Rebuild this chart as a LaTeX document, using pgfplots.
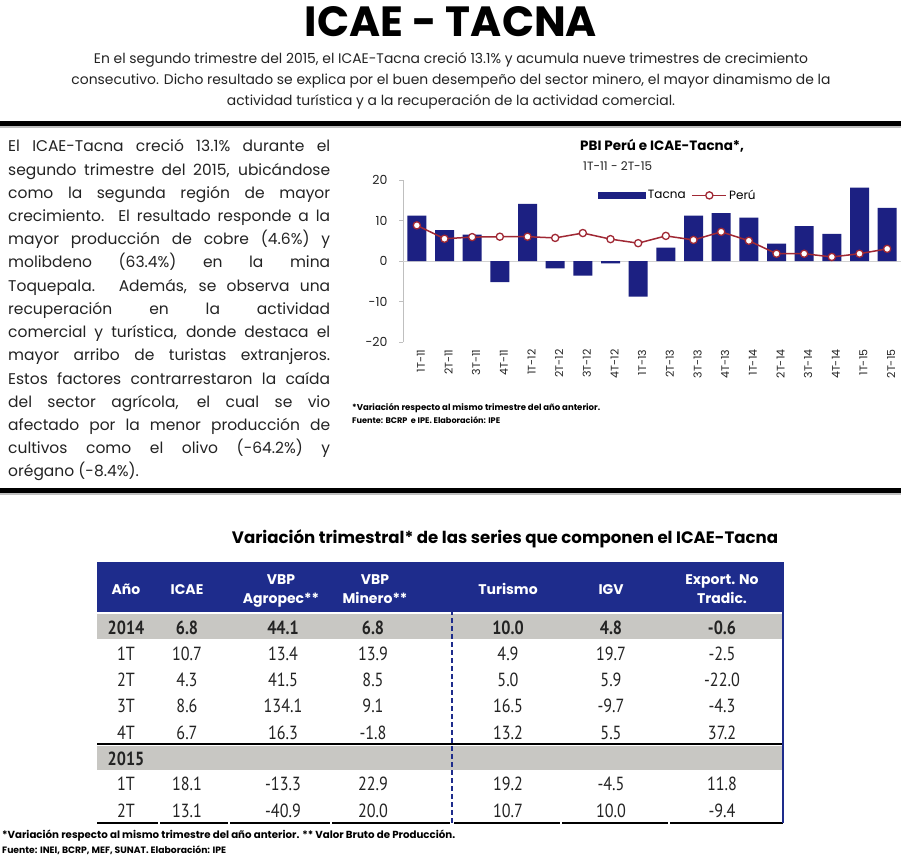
\documentclass[border=0pt]{standalone}
\usepackage{fontspec}
\setmainfont{Poppins}
\newfontfamily\numfont[FakeStretch=0.85]{PT Sans}
\usepackage{graphicx}
\usepackage{pgfplots}
\pgfplotsset{compat=1.18}

\definecolor{navy}{RGB}{28,32,130}
\definecolor{hdrblue}{RGB}{30,44,140}
\definecolor{peru}{RGB}{160,40,52}
\definecolor{rowgray}{RGB}{200,199,195}
\definecolor{txt}{RGB}{35,35,35}

\pgfplotsset{
  barleg/.style={legend image code/.code={\fill[navy] (0pt,-3.5pt) rectangle (48pt,3.5pt);}},
  lineleg/.style={legend image code/.code={\draw[mark repeat=2,mark phase=2,##1] plot coordinates {(0pt,0pt) (17pt,0pt) (34pt,0pt)};}}
}

\newcommand{\jl}[1]{\makebox[322pt][s]{#1}}

\begin{document}
\begin{tikzpicture}[x=1pt,y=1pt]
\useasboundingbox (0,0) rectangle (901,-858);
\fill[white] (0,0) rectangle (901,-858);

% heading
\node[inner sep=0] at (451,-22) {\resizebox{292pt}{30pt}{\bfseries ICAE - TACNA}};
\begin{scope}[every node/.style={inner sep=0,anchor=base,text=txt,font=\fontsize{13.9}{15}\selectfont}]
\node at (451,-64) {En el segundo trimestre del 2015, el ICAE-Tacna creció 13.1\% y acumula nueve trimestres de crecimiento};
\node at (451,-85) {consecutivo. Dicho resultado se explica por el buen desempeño del sector minero, el mayor dinamismo de la};
\node at (451,-106) {actividad turística y a la recuperación de la actividad comercial.};
\end{scope}
\fill[black] (0,-121) rectangle (901,-126);
\fill[black!25] (0,-126) rectangle (901,-128);

% left paragraph
\foreach \t [count=\i from 0] in {
 {\jl{El ICAE-Tacna creció 13.1\% durante el}},
 {\jl{segundo trimestre del 2015, ubicándose}},
 {\jl{como la segunda región de mayor}},
 {\jl{crecimiento. El resultado responde a la}},
 {\jl{mayor producción de cobre (4.6\%) y}},
 {\jl{molibdeno (63.4\%) en la mina}},
 {\jl{Toquepala. Además, se observa una}},
 {\jl{recuperación en la actividad}},
 {\jl{comercial y turística, donde destaca el}},
 {\jl{mayor arribo de turistas extranjeros.}},
 {\jl{Estos factores contrarrestaron la caída}},
 {\jl{del sector agrícola, el cual se vio}},
 {\jl{afectado por la menor producción de}},
 {\jl{cultivos como el olivo (-64.2\%) y}},
 {orégano (-8.4\%).}}
 \node[anchor=base west,inner sep=0,text=txt,font=\fontsize{15.5}{17}\selectfont] at (8,{-152-23.2*\i}) {\t};

% chart titles
\node[inner sep=0,anchor=base west,font=\fontsize{13.5}{14}\selectfont\bfseries] at (580,-151) {PBI Perú e ICAE-Tacna*,};
\node[inner sep=0,anchor=base west,text=txt,font=\fontsize{12}{14}\selectfont] at (583,-171) {1T-11 - 2T-15};

\begin{axis}[at={(403pt,-342pt)},anchor=south west,scale only axis,
  width=498pt,height=162pt,
  xmin=-0.5,xmax=17.5,ymin=-20,ymax=20,
  axis x line=bottom,axis y line=left,
  axis line style={-},
  x axis line style={draw=none},
  y axis line style={draw=black!25,line width=0.8pt},
  xtick={0,...,17},
  xticklabels={1T-11,2T-11,3T-11,4T-11,1T-12,2T-12,3T-12,4T-12,1T-13,2T-13,3T-13,4T-13,1T-14,2T-14,3T-14,4T-14,1T-15,2T-15},
  x tick style={draw=none},
  xticklabel style={rotate=90,anchor=east,font=\fontsize{11}{11}\selectfont,text=txt,yshift=-4pt},
  ytick={-20,-10,0,10,20},
  y tick style={draw=black!25,line width=0.8pt},
  tick align=outside,major tick length=4pt,
  yticklabel style={font=\fontsize{12.5}{12}\selectfont,text=txt,xshift=-8pt},
  /pgf/number format/assume math mode=true,
  extra y ticks={0},extra y tick labels={},
  extra y tick style={grid=major,major grid style={draw=black!18,line width=0.8pt},tick style={draw=none}},
  legend style={draw=none,fill=none,at={(0.385,0.905)},anchor=west,legend columns=2,
    font=\fontsize{12}{12}\selectfont,
    /tikz/every even column/.append style={column sep=4pt}},
  legend cell align=left,
  clip=true]
\addplot[ybar,bar width=19pt,fill=navy,draw=none,barleg]
  coordinates {(0,11.2) (1,7.6) (2,6.5) (3,-5.2) (4,14.1) (5,-1.8) (6,-3.6) (7,-0.6) (8,-8.8)
   (9,3.3) (10,11.2) (11,11.8) (12,10.7) (13,4.3) (14,8.6) (15,6.7) (16,18.1) (17,13.1)};
\addplot[peru,line width=1.5pt,mark=*,mark size=3.6pt,mark options={fill=white,draw=peru,line width=1.3pt},lineleg]
  coordinates {(0,8.8) (1,5.5) (2,5.9) (3,6.0) (4,6.0) (5,5.7) (6,6.9) (7,5.4) (8,4.4)
   (9,6.2) (10,5.2) (11,7.2) (12,5.0) (13,1.8) (14,1.8) (15,1.0) (16,1.8) (17,3.0)};
\legend{Tacna,Perú}
\end{axis}

\node[inner sep=0,anchor=base west] at (352,-410) {\resizebox{248pt}{!}{\bfseries *Variación respecto al mismo trimestre del año anterior.}};
\node[inner sep=0,anchor=base west] at (352,-423) {\resizebox{148pt}{!}{\bfseries Fuente: BCRP\ \ e IPE. Elaboración: IPE}};

% second rule
\fill[black] (0,-488) rectangle (901,-493);
\fill[black!25] (0,-493) rectangle (901,-495);

% table
\node[inner sep=0,anchor=base] at (505,-543) {\resizebox{546pt}{!}{\bfseries Variación trimestral* de las series que componen el ICAE-Tacna}};
\fill[hdrblue] (97,-562) rectangle (783,-612);
\fill[rowgray] (97,-614) rectangle (783,-639);
\fill[rowgray] (97,-746) rectangle (783,-770);
\draw[black,line width=2pt] (97,-744) -- (783,-744);
\foreach \a/\b in {97/158,160/228,230/330,332/450,454/560,562/668,670/783}
  \draw[black,line width=2pt] (\a,-823) -- (\b,-823);
\draw[hdrblue,line width=1.3pt,dash pattern=on 5pt off 3pt] (452,-562) -- (452,-823);
\draw[hdrblue,line width=1.5pt] (783,-562) -- (783,-823);

\begin{scope}[every node/.style={inner sep=0,anchor=base,text=white,font=\fontsize{14}{15}\selectfont\bfseries}]
\node at (126,-594) {Año};
\node at (187,-594) {ICAE};
\node at (281,-584) {VBP}; \node at (281,-603) {Agropec**};
\node at (375,-584) {VBP}; \node at (375,-603) {Minero**};
\node at (508,-594) {Turismo};
\node at (611,-594) {IGV};
\node at (722,-584) {Export. No}; \node at (722,-603) {Tradic.};
\end{scope}

\begin{scope}[every node/.style={inner sep=0,anchor=base,text=txt,font=\numfont\fontsize{19}{20}\selectfont}]
\foreach \y/\r in {-634/{\bfseries 2014,\bfseries 6.8,\bfseries 44.1,\bfseries 6.8,\bfseries 10.0,\bfseries 4.8,\bfseries -0.6},
  -660/{1T,10.7,13.4,13.9,4.9,19.7,-2.5},
  -686/{2T,4.3,41.5,8.5,5.0,5.9,-22.0},
  -712/{3T,8.6,134.1,9.1,16.5,-9.7,-4.3},
  -739/{4T,6.7,16.3,-1.8,13.2,5.5,37.2},
  -790/{1T,18.1,-13.3,22.9,19.2,-4.5,11.8},
  -817/{2T,13.1,-40.9,20.0,10.7,10.0,-9.4}}
  \foreach \v [count=\k] in \r {
    \pgfmathsetmacro{\cx}{{126,187,283,373,508,611,722}[\k-1]}
    \node at (\cx,\y) {\v};
  }
\node at (126,-765) {\bfseries 2015};
\end{scope}

\node[inner sep=0,anchor=base west] at (2,-838) {\resizebox{453pt}{!}{\bfseries *Variación respecto al mismo trimestre del año anterior. ** Valor Bruto de Producción.}};
\node[inner sep=0,anchor=base west] at (2,-853) {\resizebox{224pt}{!}{\bfseries Fuente: INEI, BCRP, MEF, SUNAT. Elaboración: IPE}};
\end{tikzpicture}
\end{document}
